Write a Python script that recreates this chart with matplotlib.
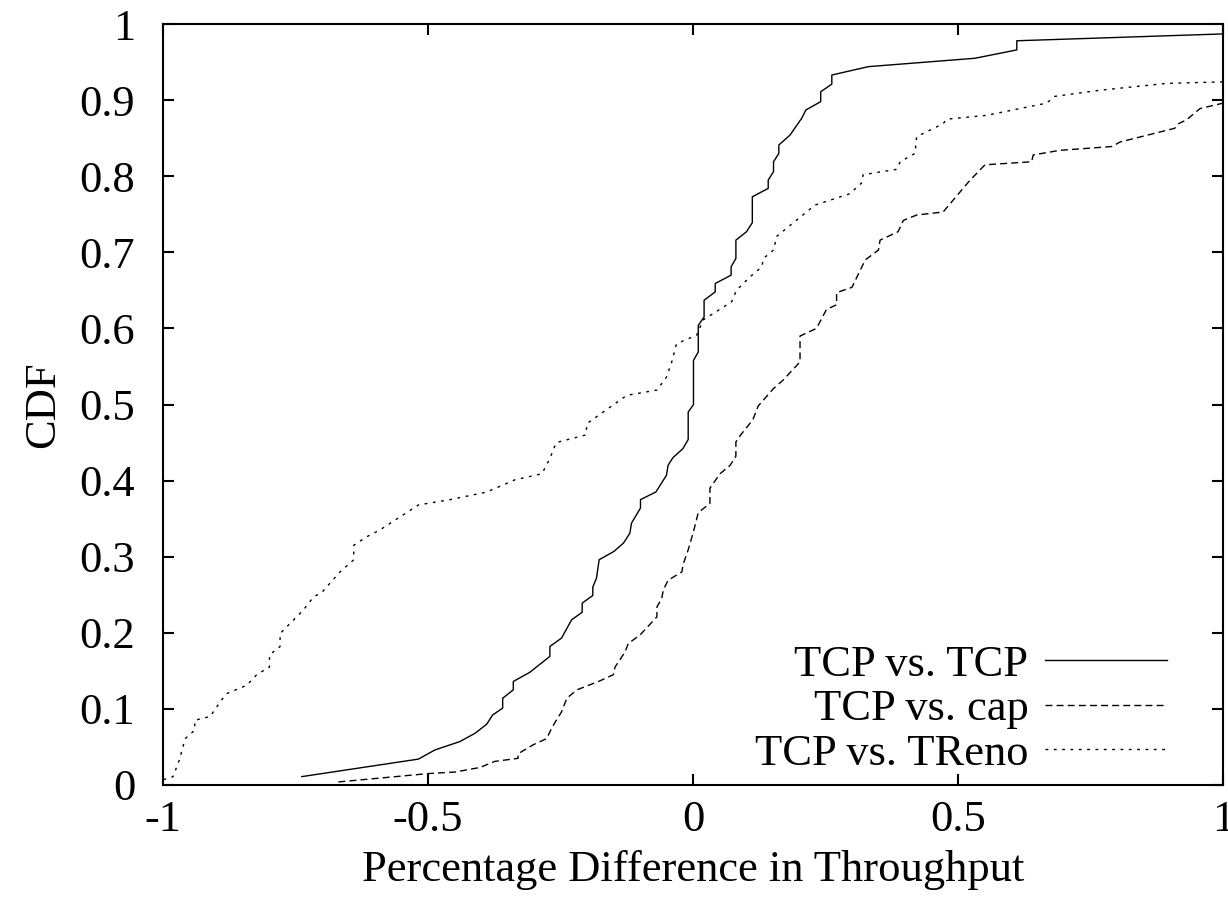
import matplotlib
matplotlib.use("Agg")
import matplotlib.pyplot as plt

# data (x = percentage difference, y = CDF)
tcp_x = [-0.738, -0.518, -0.487, -0.440, -0.411, -0.389, -0.378, -0.359, -0.359, -0.339,
         -0.339, -0.308, -0.270, -0.270, -0.248, -0.229, -0.209, -0.209, -0.189, -0.189,
         -0.182, -0.177, -0.149, -0.131, -0.119, -0.116, -0.099, -0.099, -0.070, -0.050,
         -0.047, -0.038, -0.019, -0.009, -0.009, 0.001, 0.001, 0.010, 0.010, 0.021,
         0.021, 0.042, 0.042, 0.072, 0.072, 0.081, 0.081, 0.101, 0.112, 0.112,
         0.142, 0.142, 0.152, 0.152, 0.162, 0.162, 0.183, 0.205, 0.213, 0.241,
         0.241, 0.262, 0.262, 0.331, 0.532, 0.611, 0.611, 1.0]
tcp_y = [0.011, 0.034, 0.046, 0.057, 0.068, 0.080, 0.092, 0.101, 0.114, 0.125,
         0.136, 0.148, 0.169, 0.182, 0.193, 0.217, 0.227, 0.239, 0.249, 0.260,
         0.272, 0.296, 0.307, 0.318, 0.331, 0.344, 0.364, 0.375, 0.385, 0.407,
         0.420, 0.430, 0.442, 0.454, 0.490, 0.500, 0.558, 0.569, 0.604, 0.615,
         0.637, 0.648, 0.659, 0.670, 0.681, 0.692, 0.716, 0.727, 0.739, 0.773,
         0.784, 0.795, 0.806, 0.819, 0.830, 0.841, 0.854, 0.876, 0.887, 0.898,
         0.911, 0.921, 0.933, 0.944, 0.955, 0.966, 0.978, 0.987]

cap_x = [-0.669, -0.499, -0.449, -0.402, -0.374, -0.330, -0.330, -0.301, -0.276, -0.267,
         -0.258, -0.248, -0.238, -0.219, -0.175, -0.150, -0.147, -0.128, -0.122, -0.100,
         -0.068, -0.068, -0.059, -0.056, -0.047, -0.021, -0.018, -0.009, 0.001, 0.010,
         0.032, 0.032, 0.051, 0.070, 0.081, 0.081, 0.090, 0.113, 0.123, 0.152,
         0.170, 0.202, 0.202, 0.233, 0.252, 0.271, 0.271, 0.300, 0.325, 0.350,
         0.353, 0.387, 0.397, 0.422, 0.472, 0.523, 0.551, 0.639, 0.642, 0.692,
         0.790, 0.806, 0.909, 0.916, 0.931, 0.957, 1.0]
cap_y = [0.004, 0.015, 0.017, 0.023, 0.031, 0.035, 0.041, 0.053, 0.061, 0.074,
         0.085, 0.096, 0.114, 0.125, 0.137, 0.145, 0.155, 0.175, 0.186, 0.197,
         0.221, 0.234, 0.245, 0.256, 0.269, 0.280, 0.291, 0.309, 0.333, 0.358,
         0.370, 0.390, 0.409, 0.420, 0.432, 0.451, 0.460, 0.480, 0.498, 0.521,
         0.532, 0.556, 0.590, 0.600, 0.625, 0.631, 0.647, 0.654, 0.690, 0.703,
         0.716, 0.727, 0.742, 0.749, 0.753, 0.795, 0.815, 0.819, 0.828, 0.834,
         0.839, 0.845, 0.863, 0.869, 0.874, 0.889, 0.896]

treno_x = [-0.999, -0.981, -0.969, -0.958, -0.940, -0.940, -0.911, -0.889, -0.880, -0.842,
           -0.823, -0.799, -0.799, -0.779, -0.779, -0.735, -0.716, -0.699, -0.666, -0.640,
           -0.640, -0.616, -0.591, -0.518, -0.458, -0.389, -0.336, -0.285, -0.270, -0.258,
           -0.202, -0.200, -0.125, -0.068, -0.050, -0.040, -0.031, 0.007, 0.019, 0.073,
           0.082, 0.108, 0.130, 0.133, 0.152, 0.158, 0.230, 0.296, 0.318, 0.321,
           0.384, 0.391, 0.419, 0.422, 0.472, 0.479, 0.554, 0.667, 0.683, 0.768,
           0.894, 1.0]
treno_y = [0.007, 0.011, 0.033, 0.061, 0.072, 0.085, 0.090, 0.112, 0.120, 0.131,
           0.145, 0.155, 0.171, 0.182, 0.199, 0.230, 0.247, 0.254, 0.280, 0.296,
           0.315, 0.326, 0.335, 0.368, 0.375, 0.385, 0.401, 0.409, 0.429, 0.450,
           0.460, 0.475, 0.512, 0.519, 0.536, 0.556, 0.580, 0.591, 0.611, 0.635,
           0.650, 0.668, 0.681, 0.692, 0.703, 0.721, 0.762, 0.777, 0.791, 0.802,
           0.809, 0.819, 0.830, 0.852, 0.869, 0.875, 0.880, 0.896, 0.905, 0.913,
           0.922, 0.924]

labels = ["TCP vs. TCP", "TCP vs. cap", "TCP vs. TReno"]
xticks = [-1, -0.5, 0, 0.5, 1]
xtick_labels = ["-1", "-0.5", "0", "0.5", "1"]
yticks = [0, 0.1, 0.2, 0.3, 0.4, 0.5, 0.6, 0.7, 0.8, 0.9, 1]
ytick_labels = ["0", "0.1", "0.2", "0.3", "0.4", "0.5", "0.6", "0.7", "0.8", "0.9", "1"]

plt.rcParams["font.family"] = ["Liberation Serif", "DejaVu Serif"]
plt.rcParams["axes.unicode_minus"] = False
FS = 32

fig = plt.figure(figsize=(12.28, 9), dpi=100)
ax = fig.add_axes([0.1327, 0.1278, 0.8632, 0.8455])

ax.plot(tcp_x, tcp_y, color="black", lw=1.0, label=labels[0])
ax.plot(cap_x, cap_y, color="black", lw=1.0, dashes=(5, 3), label=labels[1])
ax.plot(treno_x, treno_y, color="black", lw=1.0, dashes=(2, 4), label=labels[2])

ax.set_xlim(-1, 1)
ax.set_ylim(0, 1)
ax.set_xticks(xticks)
ax.set_xticklabels(xtick_labels)
ax.set_yticks(yticks)
ax.set_yticklabels(ytick_labels)
ax.tick_params(direction="in", length=8, width=1.5, top=True, right=True,
               labelsize=FS)
ax.tick_params(axis="y", pad=20)
ax.tick_params(axis="x", pad=11)
for s in ax.spines.values():
    s.set_linewidth(1.5)

ax.set_xlabel("Percentage Difference in Throughput", fontsize=FS, labelpad=7)
ax.set_ylabel("CDF", fontsize=FS, labelpad=12)

ax.legend(loc="lower right", bbox_to_anchor=(0.977, -0.026), markerfirst=False,
          frameon=False, fontsize=FS, handlelength=2.75, handletextpad=0.38,
          labelspacing=0.1, borderpad=0.2)

fig.savefig("out.png", dpi=100)
